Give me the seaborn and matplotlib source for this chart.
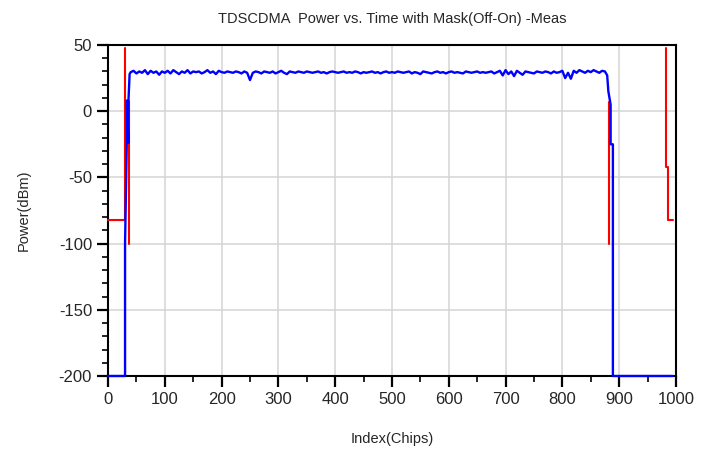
import matplotlib
matplotlib.use("Agg")
import matplotlib.pyplot as plt
import seaborn as sns
import numpy as np
import pandas as pd
from matplotlib.ticker import MultipleLocator

# ---- data ----
# measured trace: start, edges
meas_lead_x = [0, 30, 30, 33, 33, 36, 36, 38]
meas_lead_y = [-200, -200, -100, -24, 8, -24, 8, 28]
# flat part sampled every 5 chips from 40 to 875
meas_flat_x = list(range(40, 876, 5))
meas_flat_y = [
    29.5, 30.5, 28.5, 30, 29, 31, 28, 30.5, 29, 30, 27.5, 30,
    29, 30.5, 28.5, 31, 29.5, 28, 30, 29, 31, 28.5, 30, 29.5,
    30, 28.5, 29.5, 31, 29, 30, 28, 30.5, 29.5, 29, 30, 29.5,
    29, 30, 29.5, 28.5, 30, 29, 23.5, 29, 30, 29.5, 28.5, 30,
    29.5, 29, 30, 28.5, 29.5, 30.5, 29, 28, 30, 29.5, 29, 30,
    29.5, 29, 30, 29.5, 29, 29.5, 30, 29, 29.5, 28.5, 29.5, 30,
    29.5, 29, 29.5, 30, 29, 29.5, 29, 30, 29.5, 28.5, 29.5, 29,
    29.5, 30, 29, 29.5, 28.5, 29.5, 30, 29, 29.5, 29, 30, 29.5,
    29, 29.5, 30, 28.5, 29.5, 29, 28, 30, 29.5, 29, 28.5, 29.5,
    30, 29, 29.5, 28.5, 29.5, 30, 29, 29.5, 29, 28.5, 30, 29.5,
    29, 29.5, 30, 29, 29.5, 29, 29.5, 30, 28.5, 29.5, 30.5, 27,
    31, 28, 30, 26.5, 30.5, 29, 27.5, 30, 29.5, 29, 28.5, 30,
    29.5, 29, 30, 29.5, 28.5, 30, 29, 29.5, 30.5, 25, 29, 24.5,
    30.5, 29, 31, 30, 29, 30.5, 29.5, 31, 30, 29, 30.5, 30,
]
meas_tail_x = [879, 881, 885, 885, 889, 889, 995]
meas_tail_y = [27, 15, 5, -25, -25, -200, -200]

# mask segments
mask_a_x = [0, 30, 30]
mask_a_y = [-82, -82, 48]
mask_b_x = [37, 37]
mask_b_y = [-100, 8]
mask_c_x = [882, 882]
mask_c_y = [7, -100]
mask_d_x = [982, 982, 986, 986, 995]
mask_d_y = [48, -42, -42, -82, -82]

title = "TDSCDMA  Power vs. Time with Mask(Off-On) -Meas"
xlabel = "Index(Chips)"
ylabel = "Power(dBm)"

# ---- plot ----
sns.set_style("white")
plt.rcParams["font.family"] = ["Liberation Sans", "DejaVu Sans"]
plt.rcParams["axes.unicode_minus"] = False

fig = plt.figure(figsize=(7.13, 4.53), dpi=100)
ax = fig.add_axes([0.1515, 0.170, 0.7965, 0.7307])

meas_x = meas_lead_x + meas_flat_x + meas_tail_x
meas_y = meas_lead_y + meas_flat_y + meas_tail_y

for mx, my in [(mask_a_x, mask_a_y), (mask_b_x, mask_b_y),
               (mask_c_x, mask_c_y), (mask_d_x, mask_d_y)]:
    sns.lineplot(x=mx, y=my, sort=False, estimator=None, color="#ff0000",
                 lw=1.5, ax=ax, zorder=3)

sns.lineplot(x=meas_x, y=meas_y, sort=False, estimator=None, color="#0000ff",
             lw=1.7, ax=ax, zorder=4)
for ln in ax.lines:
    ln.set_clip_on(False)

ax.set_xlim(0, 1000)
ax.set_ylim(-200, 50)
ax.xaxis.set_major_locator(MultipleLocator(100))
ax.xaxis.set_minor_locator(MultipleLocator(50))
ax.yaxis.set_major_locator(MultipleLocator(50))
ax.yaxis.set_minor_locator(MultipleLocator(10))
ax.tick_params(which="major", direction="out", length=8, width=1.6,
               color="black", labelsize=12, bottom=True, left=True)
ax.tick_params(which="minor", direction="out", length=4, width=1.2,
               color="black", bottom=True, left=True)
ax.grid(True, which="major", color="#d4d4d4", lw=1.1)
ax.set_axisbelow(True)
for s in ax.spines.values():
    s.set_color("black")
    s.set_linewidth(1.5)

ax.set_title(title, fontsize=10.5, pad=16)
ax.set_xlabel(xlabel, fontsize=10.5, labelpad=18)
ax.set_ylabel(ylabel, fontsize=10.5, labelpad=20)

fig.savefig("out.png", dpi=100)
